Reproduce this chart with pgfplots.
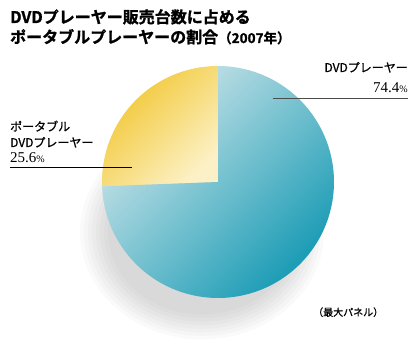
\documentclass[border=0pt]{standalone}
\usepackage{pgfplots}
\pgfplotsset{compat=1.18}
\usepackage{pgfplotstable}
\usepackage{fontspec}
\setmainfont{Liberation Serif}
\newfontfamily\jp[FakeBold=0.8]{Noto Sans CJK JP}
\newfontfamily\jpb[FakeBold=1.2]{Noto Sans CJK JP Bold}
\definecolor{tealdark}{HTML}{1B9CB5}
\definecolor{teallight}{HTML}{D2E7EB}
\definecolor{yelldark}{HTML}{F1C52C}
\definecolor{yelllight}{HTML}{FCF1C6}
\pgfplotstableread{
name value
portable 25.6
dvd 74.4
}\piedata
\begin{document}
\begin{tikzpicture}
\pgfplotstablegetelem{0}{value}\of\piedata
\pgfmathsetmacro{\vA}{\pgfplotsretval}
\pgfmathsetmacro{\aA}{90+3.6*\vA}
\pgfmathsetmacro{\aB}{450}
\begin{axis}[
  hide axis, scale only axis,
  width=420pt, height=356pt,
  xmin=0, xmax=420, ymin=0, ymax=356,
  clip=false,
]
\path (rel axis cs:0,0) rectangle (rel axis cs:1,1);
% soft shadow
\pgfplotsinvokeforeach{94,98,...,122}{
  \fill[black, opacity=0.02] (axis cs:202,124) ellipse[x radius=#1pt, y radius=0.88*#1pt];
}
% portable slice
\addplot[draw=none, top color=yelldark, bottom color=yelllight, shading angle=45,
  domain=90:\aA, samples=80]
  ({218+116*cos(x)},{174+116*sin(x)}) -- (axis cs:218,174) -- cycle;
% DVD slice
\addplot[draw=none, top color=teallight, bottom color=tealdark, shading angle=45,
  domain=\aA:\aB, samples=160]
  ({218+116*cos(x)},{174+116*sin(x)}) -- (axis cs:218,174) -- cycle;
% leader lines
\draw[black!70, line width=0.7pt] (axis cs:273,258) -- (axis cs:408,258);
\draw[black, line width=0.7pt] (axis cs:10,189) -- (axis cs:132,189);
% labels
\node[anchor=base east, inner sep=0pt, font=\jp\fontsize{12}{14}\selectfont] at (axis cs:408,284) {DVDプレーヤー};
\node[anchor=base east, inner sep=0pt] at (axis cs:408,263) {\fontsize{15}{17}\selectfont 74.4\fontsize{10}{12}\selectfont\%};
\node[anchor=base west, inner sep=0pt, font=\jp\fontsize{12}{14}\selectfont] at (axis cs:10,225) {ポータブル};
\node[anchor=base west, inner sep=0pt, font=\jp\fontsize{12}{14}\selectfont] at (axis cs:10,209) {DVDプレーヤー};
\node[anchor=base west, inner sep=0pt] at (axis cs:10,193) {\fontsize{15}{17}\selectfont 25.6\fontsize{10}{12}\selectfont\%};
\node[anchor=base west, inner sep=0pt, font=\jp\fontsize{10}{12}\selectfont] at (axis cs:313,40) {（最大パネル）};
% title
\node[anchor=base west, inner sep=0pt, font=\jpb\fontsize{16}{18}\selectfont] at (axis cs:10,333) {DVDプレーヤー販売台数に占める};
\node[anchor=base west, inner sep=0pt, font=\jpb\fontsize{16}{18}\selectfont] at (axis cs:10,313) {ポータブルプレーヤーの割合{\fontsize{13.5}{15}\selectfont（2007年）}};
\end{axis}
\end{tikzpicture}
\end{document}
